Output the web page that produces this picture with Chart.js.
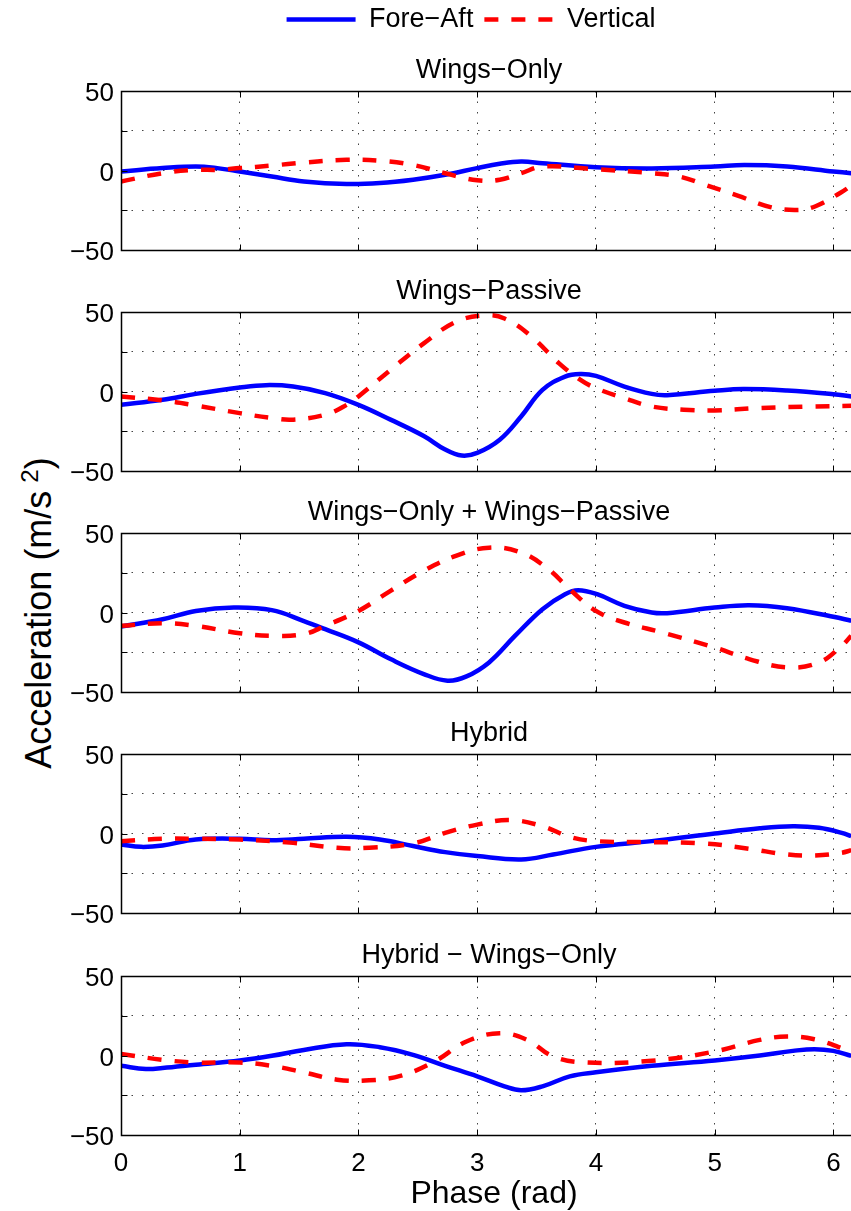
<!DOCTYPE html>
<html>
<head>
<meta charset="utf-8">
<title>Acceleration vs phase</title>
<script src="https://cdn.jsdelivr.net/npm/chart.js@4.4.1/dist/chart.umd.min.js"></script>
<style>
  html, body { margin: 0; padding: 0; background: #fff; }
  body {
    width: 851px; height: 1211px; position: relative; overflow: hidden;
    font-family: 'Liberation Sans', Arial, Helvetica, sans-serif; color: #000;
  }
  canvas { position: absolute; left: 0; }
  #ylabel {
    position: absolute; left: 39px; top: 613px;
    transform: translate(-50%, -50%) rotate(-90deg);
    font-size: 36px; line-height: 1; white-space: nowrap;
  }
  #ylabel sup { font-size: 24px; margin-left: 8px; vertical-align: 0.55em; line-height: 0; }
</style>
</head>
<body>
<div id="ylabel">Acceleration (m/s<sup>2</sup>)</div>
<script>
// subplot titles, top to bottom
const titles = ['Wings−Only', 'Wings−Passive', 'Wings−Only + Wings−Passive', 'Hybrid', 'Hybrid − Wings−Only'];
const seriesNames = ['Fore−Aft', 'Vertical'];
const phaseTicks = [0, 1, 2, 3, 4, 5, 6];
const accelTicks = [-50, -25, 0, 25, 50];

// [phase (rad), acceleration (m/s^2)]
const wingsOnlyForeAft = [[0, -0.6], [0.35, 1.5], [0.63, 2.5], [0.81, 1.5], [1.0, -0.6], [1.27, -3.8], [1.54, -6.9], [1.9, -8.5], [2.18, -7.9], [2.46, -5.8], [2.73, -2.7], [3.0, 1.5], [3.19, 4.2], [3.37, 5.6], [3.55, 4.6], [4.0, 2.1], [4.47, 1.3], [5.0, 2.5], [5.25, 3.4], [5.61, 2.5], [6.0, -0.6], [6.15, -1.7]];
const wingsOnlyVertical = [[0, -6.9], [0.35, -1.7], [0.63, 0.4], [0.81, 0.4], [1.0, 1.5], [1.27, 3.1], [1.54, 5.0], [1.9, 6.7], [2.18, 6.2], [2.46, 3.5], [2.73, -1.7], [3.0, -6.2], [3.19, -5.8], [3.37, -1.7], [3.55, 2.5], [4.0, 0.8], [4.47, -1.7], [4.7, -3.8], [4.92, -9.0], [5.2, -16.0], [5.47, -23.0], [5.7, -24.8], [5.85, -22.5], [6.06, -14.0], [6.15, -9.5]];

const wingsPassiveForeAft = [[0, -8.4], [0.35, -5.2], [0.63, -1.5], [1.0, 2.5], [1.22, 4.0], [1.45, 3.1], [1.72, -1.0], [2.0, -8.4], [2.27, -17.7], [2.55, -28.0], [2.73, -36.5], [2.87, -40.3], [3.0, -38.6], [3.19, -30.3], [3.37, -15.7], [3.55, 1.0], [3.74, 9.4], [3.87, 11.0], [4.0, 9.8], [4.24, 3.1], [4.47, -1.5], [4.6, -2.3], [5.0, 0.4], [5.24, 1.5], [5.61, 0.6], [6.0, -1.7], [6.15, -3.1]];
const wingsPassiveVertical = [[0, -3.1], [0.35, -5.6], [0.63, -8.8], [1.0, -13.6], [1.27, -16.7], [1.45, -17.7], [1.72, -14.6], [1.9, -8.4], [2.0, -3.1], [2.27, 13.6], [2.55, 30.3], [2.82, 43.8], [3.05, 47.8], [3.23, 45.9], [3.46, 34.4], [3.69, 17.7], [3.87, 7.3], [4.0, 2.1], [4.24, -4.2], [4.47, -9.4], [4.74, -11.5], [5.0, -11.9], [5.38, -10.4], [5.84, -9.4], [6.15, -9.0]];

const combinedForeAft = [[0, -8.8], [0.35, -4.2], [0.63, 1.0], [0.95, 3.1], [1.27, 1.5], [1.54, -5.4], [1.72, -10.5], [2.0, -18.8], [2.27, -29.3], [2.55, -38.7], [2.75, -42.9], [2.91, -40.2], [3.1, -31.4], [3.32, -14.6], [3.55, 2.1], [3.74, 11.5], [3.85, 14.0], [4.01, 11.5], [4.24, 4.2], [4.47, 0], [4.6, -0.4], [5.0, 3.1], [5.29, 4.6], [5.61, 2.7], [6.0, -2.7], [6.15, -5.2]];
const combinedVertical = [[0, -8.4], [0.35, -6.7], [0.63, -8.4], [1.0, -13.0], [1.27, -14.6], [1.54, -13.6], [1.72, -8.4], [2.0, 1.0], [2.27, 13.6], [2.55, 26.2], [2.82, 35.6], [3.1, 40.8], [3.37, 37.7], [3.6, 27.2], [3.78, 14.6], [4.0, 1.0], [4.24, -6.3], [4.56, -12.6], [5.0, -22.0], [5.29, -29.3], [5.61, -34.5], [5.88, -31.4], [6.07, -21.0], [6.15, -14.6]];

const hybridForeAft = [[0, -6.9], [0.17, -8.4], [0.35, -7.5], [0.63, -3.8], [1.0, -3.3], [1.27, -4.2], [1.54, -3.3], [1.9, -2.1], [2.18, -3.8], [2.46, -7.9], [2.73, -11.7], [3.0, -14.2], [3.37, -16.3], [3.64, -13.2], [4.0, -8.4], [4.47, -4.8], [5.0, 0], [5.38, 3.3], [5.66, 4.6], [5.88, 3.6], [6.07, 0.4], [6.15, -1.7]];
const hybridVertical = [[0, -4.8], [0.35, -3.3], [0.63, -3.3], [1.0, -3.8], [1.45, -5.9], [1.82, -9.0], [2.09, -9.0], [2.46, -6.3], [2.73, 0.4], [3.0, 5.6], [3.28, 8.4], [3.55, 4.6], [3.78, -2.1], [4.0, -4.8], [4.47, -5.4], [4.92, -6.3], [5.29, -9.6], [5.61, -13.2], [5.84, -13.8], [6.07, -12.1], [6.15, -10.5]];

const differenceForeAft = [[0, -6.5], [0.21, -8.5], [0.35, -7.9], [0.63, -5.8], [1.0, -3.1], [1.27, -0.2], [1.54, 3.5], [1.9, 7.1], [2.18, 5.2], [2.46, 0.4], [2.73, -6.5], [3.0, -13.1], [3.23, -19.4], [3.37, -21.9], [3.55, -19.4], [3.78, -13.1], [4.0, -10.6], [4.47, -6.5], [5.0, -3.1], [5.38, 0], [5.66, 2.9], [5.84, 4.0], [6.0, 2.9], [6.15, -0.2]];
const differenceVertical = [[0, 1.0], [0.35, -2.7], [0.63, -4.4], [1.0, -4.4], [1.27, -6.5], [1.54, -10.6], [1.82, -15.2], [2.09, -15.6], [2.36, -12.7], [2.64, -3.8], [2.91, 8.8], [3.19, 14.0], [3.42, 9.8], [3.64, -0.6], [3.92, -4.4], [4.47, -3.3], [5.0, 2.5], [5.38, 9.8], [5.61, 11.9], [5.84, 10.2], [6.07, 4.6], [6.15, 1.5]];

const foreAftSeries = [wingsOnlyForeAft, wingsPassiveForeAft, combinedForeAft, hybridForeAft, differenceForeAft];
const verticalSeries = [wingsOnlyVertical, wingsPassiveVertical, combinedVertical, hybridVertical, differenceVertical];

Chart.defaults.font.family = "'Liberation Sans', Arial, Helvetica, sans-serif";
Chart.defaults.color = '#000';

const BLUE = '#0000ff';
const RED = '#ff0000';
const LINE_W = 4.5;
const DASH = [14, 13];
const GRID_DOTS = [1.5, 9];
const CANVAS_W = 868;
const PLOT_H = 159;
const plotTops = [91, 312, 533, 754, 976];

// full box around the axes plus short inward tick marks
const axesBox = {
    id: 'axesBox',
    afterDatasetsDraw(chart) {
        const { ctx, chartArea: a, scales: { x, y } } = chart;
        const left = Math.round(a.left) + 0.5, right = Math.round(a.right) + 0.5;
        const top = Math.round(a.top) + 0.5, bottom = Math.round(a.bottom) + 0.5;
        ctx.save();
        ctx.strokeStyle = '#000';
        ctx.lineWidth = 1;
        ctx.beginPath();
        phaseTicks.forEach(v => {
            const px = Math.round(x.getPixelForValue(v)) + 0.5;
            ctx.moveTo(px, top); ctx.lineTo(px, top + 6);
            ctx.moveTo(px, bottom); ctx.lineTo(px, bottom - 6);
        });
        accelTicks.forEach(v => {
            const py = Math.round(y.getPixelForValue(v)) + 0.5;
            ctx.moveTo(left, py); ctx.lineTo(left + 6, py);
            ctx.moveTo(right, py); ctx.lineTo(right - 6, py);
        });
        ctx.stroke();
        ctx.lineWidth = 1.5;
        ctx.strokeRect(left, top, right - left, bottom - top);
        ctx.restore();
    }
};

// subplot title centred over the plot area
const panelTitle = {
    id: 'panelTitle',
    afterDraw(chart, args, opts) {
        const { ctx, chartArea: a } = chart;
        ctx.save();
        ctx.font = "27px 'Liberation Sans', Arial, Helvetica, sans-serif";
        ctx.fillStyle = '#000';
        ctx.textAlign = 'center';
        ctx.textBaseline = 'middle';
        ctx.fillText(opts.text, (a.left + a.right) / 2 - 5, a.top - 20);
        ctx.restore();
    }
};

function addCanvas(top, width, height) {
    const c = document.createElement('canvas');
    c.width = width; c.height = height;
    c.style.top = top + 'px';
    c.style.width = width + 'px'; c.style.height = height + 'px';
    document.body.appendChild(c);
    return c;
}

function toPoints(list) {
    return list.map(([x, y]) => ({ x, y }));
}

function crearPanel(i) {
    const last = i === titles.length - 1;
    const xAxisH = last ? 75 : 0;
    const bottomPad = last ? 10 : 24;
    const height = 50 + PLOT_H + xAxisH + bottomPad;
    const canvas = addCanvas(plotTops[i] - 50, CANVAS_W, height);

    new Chart(canvas, {
        type: 'line',
        data: {
            datasets: [{
                label: seriesNames[0],
                data: toPoints(foreAftSeries[i]),
                borderColor: BLUE,
                borderWidth: LINE_W,
                order: 1
            }, {
                label: seriesNames[1],
                data: toPoints(verticalSeries[i]),
                borderColor: RED,
                borderWidth: LINE_W,
                borderDash: DASH,
                order: 0
            }]
        },
        options: {
            responsive: false,
            animation: false,
            devicePixelRatio: 1,
            layout: { padding: { left: 66, right: 1, top: 50, bottom: bottomPad } },
            elements: {
                point: { radius: 0 },
                line: { tension: 0.4, borderCapStyle: 'butt', fill: false }
            },
            plugins: {
                legend: { display: false },
                tooltip: { enabled: false },
                title: { display: false },
                panelTitle: { text: titles[i] }
            },
            scales: {
                x: {
                    type: 'linear',
                    min: 0,
                    max: 2 * Math.PI,
                    afterBuildTicks: s => { s.ticks = phaseTicks.map(v => ({ value: v })); },
                    afterFit: s => { s.height = xAxisH; },
                    grid: {
                        drawTicks: false,
                        lineWidth: 1,
                        color: c => (c.tick && c.tick.value === 0) ? 'rgba(0,0,0,0)' : '#444'
                    },
                    border: { display: false, dash: GRID_DOTS },
                    ticks: {
                        display: last,
                        autoSkip: false,
                        maxRotation: 0,
                        padding: 16,
                        font: { size: 26, lineHeight: 1 },
                        callback: v => String(v)
                    },
                    title: {
                        display: last,
                        text: 'Phase (rad)',
                        font: { size: 32, lineHeight: 1 },
                        padding: { top: 2, bottom: 0 }
                    }
                },
                y: {
                    min: -50,
                    max: 50,
                    afterBuildTicks: s => { s.ticks = accelTicks.map(v => ({ value: v })); },
                    afterFit: s => { s.width = 55; },
                    grid: {
                        drawTicks: false,
                        lineWidth: 1,
                        color: c => (c.tick && Math.abs(c.tick.value) === 50) ? 'rgba(0,0,0,0)' : '#444'
                    },
                    border: { display: false, dash: GRID_DOTS },
                    ticks: {
                        padding: 7,
                        labelOffset: 3,
                        font: { size: 26, lineHeight: 1 },
                        callback: v => v % 50 === 0 ? String(v).replace('-', '−') : ''
                    }
                }
            }
        },
        plugins: [axesBox, panelTitle]
    });
}

// shared legend across the top of the figure
function crearLeyenda() {
    const canvas = addCanvas(-5, 942, 60);
    const colors = [BLUE, RED];
    const dashes = [[], DASH];
    new Chart(canvas, {
        type: 'line',
        data: { datasets: seriesNames.map((label, k) => ({ label, data: [], borderColor: colors[k], borderDash: dashes[k] })) },
        options: {
            responsive: false,
            animation: false,
            devicePixelRatio: 1,
            scales: { x: { display: false }, y: { display: false } },
            plugins: {
                tooltip: { enabled: false },
                legend: {
                    display: true,
                    position: 'top',
                    maxHeight: 60,
                    labels: {
                        usePointStyle: true,
                        pointStyleWidth: 69,
                        padding: 11,
                        color: '#000',
                        font: { size: 27 },
                        generateLabels: () => seriesNames.map((text, k) => ({
                            text,
                            datasetIndex: k,
                            strokeStyle: colors[k],
                            fillStyle: colors[k],
                            fontColor: '#000',
                            lineWidth: LINE_W,
                            lineDash: dashes[k],
                            lineCap: 'butt',
                            pointStyle: 'line'
                        }))
                    }
                }
            }
        }
    });
}

crearLeyenda();
titles.forEach((_, i) => crearPanel(i));
</script>
</body>
</html>
